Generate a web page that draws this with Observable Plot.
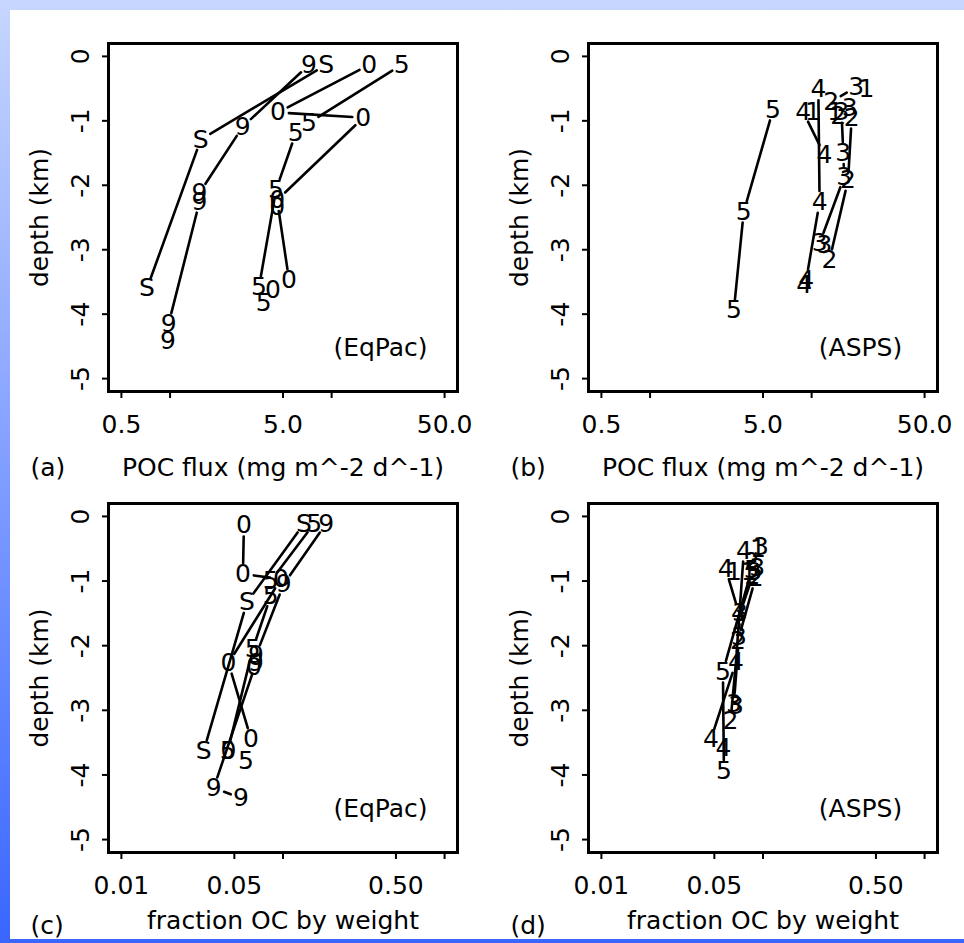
<!DOCTYPE html>
<html>
<head>
<meta charset="utf-8">
<script src="https://cdn.jsdelivr.net/npm/d3@7"></script>
<script src="https://cdn.jsdelivr.net/npm/@observablehq/plot@0.6"></script>
<style>
  html, body { margin: 0; padding: 0; }
  #page { position: relative; width: 964px; height: 943px; overflow: hidden;
          background: linear-gradient(to bottom, #c6d6ff 0%, #3a66ff 100%); }
  #sheet { position: absolute; left: 10px; top: 10px; width: 954px; height: 929px; background: #ffffff; }
  .panel { position: absolute; }
</style>
</head>
<body>
<div id="page"><div id="sheet"></div></div>
<script>
// ---------- axis ticks ----------
const fluxTicks = [0.5, 1, 5, 10, 50];
const fluxTickLabels = ["0.5", "", "5.0", "", "50.0"];
const fracTicks = [0.01, 0.05, 0.1, 0.5, 1];
const fracTickLabels = ["0.01", "0.05", "", "0.50", ""];
const depthTicks = [0, -1, -2, -3, -4, -5];
const depthTickLabels = ["0", "-1", "-2", "-3", "-4", "-5"];
const fluxDomain = [0.416, 60.1];
const fracDomain = [0.00832, 1.202];
const depthDomain = [-5.2, 0.2];

// ---------- (a) EqPac, POC flux ----------
const aGroup = ["S","S","S", "9","9","9","9","9","9", "0","0","0","0","0", "0b","0c", "5","5","5","5","5","5"];
const aLabel = ["S","S","S", "9","9","9","9","9","9", "0","0","0","0","0", "0","0", "5","5","5","5","5","5"];
const aFlux  = [9.25,1.55,0.72, 7.25,2.82,1.52,1.52,0.98,0.97, 17.1,4.65,15.7,4.6,5.45, 4.6,4.33, 27.1,7.25,6.0,4.53,3.55,3.8];
const aDepth = [-0.13,-1.29,-3.6, -0.13,-1.09,-2.12,-2.26,-4.15,-4.41, -0.13,-0.87,-0.95,-2.23,-3.47, -2.33,-3.63, -0.13,-1.03,-1.19,-2.07,-3.58,-3.82];

// ---------- (b) ASPS, POC flux ----------
const bGroup = ["5","5","5", "4a","4a","4a", "4b","4b", "4c", "1a", "31","31", "1b", "1c", "2b", "3a","3a","3a","3a", "3b", "3c", "2","2","2"];
const bLabel = ["5","5","5", "4","4","4", "4","4", "4", "1", "3","2", "1", "1", "2", "3","3","3","3", "3", "3", "2","2","2"];
const bFlux  = [5.77,3.8,3.3, 11.0,11.2,9.25, 8.86,12.0, 9.0, 10.2, 18.9,13.2, 21.8, 14.0, 14.6, 15.3,15.7,15.9,11.2, 17.2, 12.0, 17.7,16.8,12.9];
const bDepth = [-0.83,-2.41,-3.94, -0.51,-2.26,-3.47, -0.86,-1.53, -3.55, -0.86, -0.48,-0.70, -0.51, -0.86, -0.92, -0.86,-1.5,-1.87,-2.9, -0.80, -2.93, -0.95,-1.92,-3.16];

// ---------- (c) EqPac, fraction OC ----------
const cGroup = ["S","S","S", "9","9","9","9","9","9", "0","0","0","0","0", "0b","0c", "5","5","5","5","5","5"];
const cLabel = ["S","S","S", "9","9","9","9","9","9", "0","0","0","0","0", "0","0", "5","5","5","5","5","5"];
const cFrac  = [0.135,0.0598,0.0323, 0.185,0.101,0.068,0.068,0.0373,0.055, 0.0573,0.0565,0.097,0.046,0.0633, 0.066,0.046, 0.156,0.084,0.084,0.065,0.0455,0.059];
const cDepth = [-0.11,-1.33,-3.63, -0.11,-1.05,-2.15,-2.27,-4.2,-4.36, -0.14,-0.89,-0.97,-2.27,-3.44, -2.33,-3.63, -0.11,-1.0,-1.23,-2.05,-3.63,-3.78];

// ---------- (d) ASPS, fraction OC ----------
const dGroup = ["5","5","5", "4a","4a","4a", "4b","4b", "4c", "1a", "31","31", "1b", "1c", "2b", "3a","3a","3a","3a", "3b", "3c", "2","2","2"];
const dLabel = ["5","5","5", "4","4","4", "4","4", "4", "1", "3","2", "1", "1", "2", "3","3","3","3", "3", "3", "2","2","2"];
const dFrac  = [0.085,0.0565,0.0573, 0.0762,0.068,0.0476, 0.0588,0.071, 0.057, 0.066, 0.097,0.085, 0.093, 0.082, 0.086, 0.088,0.072,0.071,0.066, 0.092, 0.068, 0.090,0.070,0.063];
const dDepth = [-0.83,-2.4,-3.94, -0.53,-2.26,-3.45, -0.81,-1.5, -3.58, -0.86, -0.48,-0.70, -0.51, -0.86, -0.92, -0.86,-1.5,-1.87,-2.9, -0.80, -2.93, -0.95,-1.92,-3.16];

// ---------- text ----------
const fluxTitle = "POC flux (mg m^-2 d^-1)";
const fracTitle = "fraction OC by weight";
const depthTitle = "depth (km)";

const FONT = "'DejaVu Sans', 'Liberation Sans', Arial, sans-serif";
const FS = 25;

function panel(o) {
  const rows = o.label.map((l, i) => ({g: o.group[i], label: l, x: o.xs[i], y: o.depth[i]}));
  // consecutive pairs inside each profile -> segments (R type "b": gaps at the labels)
  const segs = [];
  for (let i = 1; i < rows.length; i++) {
    if (rows[i].g === rows[i - 1].g) segs.push({x1: rows[i - 1].x, y1: rows[i - 1].y, x2: rows[i].x, y2: rows[i].y});
  }
  const fmtX = d => o.xTickLabels[o.xTicks.indexOf(d)];
  const fmtY = d => depthTickLabels[depthTicks.indexOf(d)];
  const chart = Plot.plot({
    width: 480,
    height: o.height,
    marginLeft: 108,
    marginRight: 23,
    marginTop: 43,
    marginBottom: o.marginBottom,
    style: {fontFamily: FONT, fontSize: FS + "px", background: "none", overflow: "visible", color: "black"},
    x: {type: "log", domain: o.xDomain},
    y: {domain: depthDomain},
    marks: [
      Plot.arrow(segs, {x1: "x1", y1: "y1", x2: "x2", y2: "y2", stroke: "black", strokeWidth: 2.6,
                        headLength: 0, insetStart: 11, insetEnd: 11}),
      Plot.text(rows, {x: "x", y: "y", text: "label", fill: "black", fontSize: FS}),
      Plot.axisX({ticks: o.xTicks, tickFormat: fmtX, tickSize: 7, tickPadding: 17, fontSize: FS, strokeWidth: 2, label: null}),
      Plot.axisY({ticks: depthTicks, tickFormat: fmtY, tickSize: 6, tickPadding: 14, tickRotate: -90, fontSize: FS, strokeWidth: 2, label: null}),
      Plot.text([o.xTitle], {frameAnchor: "bottom", text: d => d, lineAnchor: "bottom", dy: o.xTitleDy, fontSize: FS}),
      Plot.text([o.tag], {frameAnchor: "bottom-left", text: d => d, textAnchor: "start", lineAnchor: "bottom", dx: -78, dy: o.tagDy, fontSize: FS}),
      Plot.text([depthTitle], {frameAnchor: "left", text: d => d, rotate: -90, textAnchor: "middle", lineAnchor: "bottom", dx: -61, fontSize: FS}),
      Plot.text([o.region], {frameAnchor: "bottom-right", text: d => d, textAnchor: "middle", dx: -77, dy: -36, fontSize: FS}),
      Plot.frame({stroke: "black", strokeWidth: 3})
    ]
  });
  chart.classList.add("panel");
  chart.style.left = o.left + "px";
  chart.style.top = o.top + "px";
  document.getElementById("page").appendChild(chart);
}

panel({group: aGroup, label: aLabel, xs: aFlux, depth: aDepth, xDomain: fluxDomain, xTicks: fluxTicks, xTickLabels: fluxTickLabels,
       xTitle: fluxTitle, tag: "(a)", region: "(EqPac)", left: 0, top: 0, height: 470, marginBottom: 79, xTitleDy: 84, tagDy: 84});
panel({group: bGroup, label: bLabel, xs: bFlux, depth: bDepth, xDomain: fluxDomain, xTicks: fluxTicks, xTickLabels: fluxTickLabels,
       xTitle: fluxTitle, tag: "(b)", region: "(ASPS)", left: 480, top: 0, height: 470, marginBottom: 79, xTitleDy: 84, tagDy: 84});
panel({group: cGroup, label: cLabel, xs: cFrac, depth: cDepth, xDomain: fracDomain, xTicks: fracTicks, xTickLabels: fracTickLabels,
       xTitle: fracTitle, tag: "(c)", region: "(EqPac)", left: 0, top: 460, height: 483, marginBottom: 91, xTitleDy: 76, tagDy: 81});
panel({group: dGroup, label: dLabel, xs: dFrac, depth: dDepth, xDomain: fracDomain, xTicks: fracTicks, xTickLabels: fracTickLabels,
       xTitle: fracTitle, tag: "(d)", region: "(ASPS)", left: 480, top: 460, height: 483, marginBottom: 91, xTitleDy: 76, tagDy: 81});
</script>
</body>
</html>
